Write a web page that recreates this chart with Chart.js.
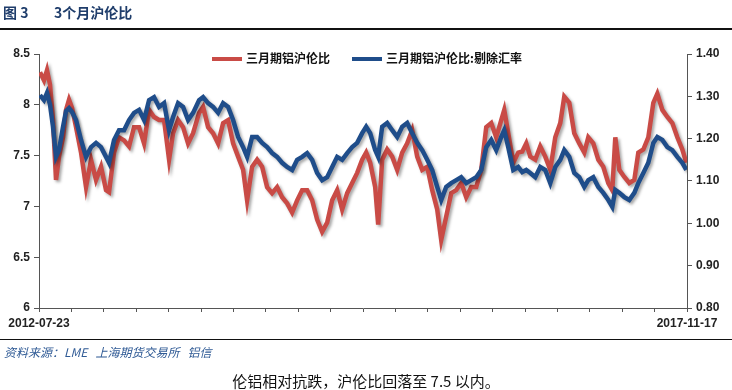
<!DOCTYPE html>
<html>
<head>
<meta charset="utf-8">
<script src="https://cdn.jsdelivr.net/npm/chart.js@4.4.0/dist/chart.umd.min.js"></script>
<style>
  body { margin: 0; background: #fff; }
  #wrap { position: relative; width: 732px; height: 390px; overflow: hidden; font-family: "Liberation Sans", Arial, sans-serif; }
  #chart { position: absolute; left: 0; top: 0; }
  .title { position: absolute; top: 2px; font: bold 14px "Noto Sans CJK SC", sans-serif; color: #1f3d6b; }
  .rule { position: absolute; left: 0; width: 732px; background: #111; }
  .legend { position: absolute; top: 49px; font: bold 12px "Noto Sans CJK SC", sans-serif; color: #111; white-space: nowrap; }
  .legend span.sw { display: inline-block; width: 30px; height: 4px; vertical-align: middle; margin-right: 4px; position: relative; top: -1px; }
  .source { position: absolute; left: 4px; top: 343px; font: italic 12px "Noto Sans CJK SC", sans-serif; color: #2f5a95; white-space: pre; }
  .caption { position: absolute; left: 0; width: 732px; top: 370px; text-align: center; font: 15px "Noto Sans CJK SC", sans-serif; color: #111; }
</style>
</head>
<body>
<div id="wrap">
  <canvas id="chart" width="732" height="390"></canvas>
  <div class="title" style="left:3px">图 3</div>
  <div class="title" style="left:54px">3个月沪伦比</div>
  <div class="rule" style="top:28px;height:2px"></div>
  <div class="legend" style="left:212px"><span class="sw" style="background:#c94b46"></span>三月期铝沪伦比</div>
  <div class="legend" style="left:352px"><span class="sw" style="background:#1f4d8a"></span>三月期铝沪伦比:剔除汇率</div>
  <div class="rule" style="top:339px;height:1px"></div>
  <div class="source">资料来源：LME   上海期货交易所   铝信</div>
  <div class="caption">伦铝相对抗跌，沪伦比回落至 7.5 以内。</div>
</div>
<script>
// days since 2012-07-23
var days = [3, 15, 24, 33, 42, 51, 60, 72, 81, 90, 99, 111, 126, 141, 156, 171, 186, 201, 210, 225,
  240, 255, 270, 285, 300, 315, 330, 345, 360, 375, 390, 402, 417, 432, 447, 462, 480, 492, 507, 522,
  537, 552, 567, 582, 597, 612, 624, 639, 654, 669, 684, 699, 714, 729, 744, 759, 774, 789, 804, 819,
  834, 849, 864, 879, 894, 909, 924, 939, 954, 969, 981, 993, 1008, 1017, 1029, 1044, 1059, 1074, 1089, 1104,
  1119, 1134, 1149, 1164, 1179, 1194, 1206, 1221, 1236, 1251, 1266, 1281, 1296, 1311, 1326, 1341, 1356, 1371, 1386, 1395,
  1407, 1422, 1437, 1449, 1461, 1473, 1488, 1503, 1518, 1533, 1548, 1563, 1575, 1590, 1605, 1620, 1635, 1647, 1662, 1677,
  1692, 1707, 1719, 1728, 1740, 1755, 1770, 1785, 1797, 1812, 1827, 1842, 1854, 1869, 1884, 1899, 1914, 1929, 1941];

// 三月期铝沪伦比 (left axis)
var ratio = [8.32, 8.24, 8.34, 8.20, 7.85, 7.26, 7.49, 7.68, 7.95, 8.05, 7.97, 7.78, 7.53, 7.19, 7.46, 7.26, 7.39, 7.16, 7.14, 7.53,
  7.68, 7.65, 7.59, 7.78, 7.78, 7.62, 7.95, 7.88, 7.85, 7.85, 7.46, 7.72, 7.85, 7.78, 7.62, 7.72, 7.92, 7.98, 7.78, 7.72,
  7.62, 7.82, 7.85, 7.62, 7.49, 7.36, 7.06, 7.39, 7.46, 7.39, 7.19, 7.13, 7.19, 7.09, 7.03, 6.94, 7.06, 7.16, 7.16, 7.06,
  6.87, 6.75, 6.84, 7.06, 7.16, 6.97, 7.13, 7.23, 7.33, 7.46, 7.53, 7.43, 7.19, 6.82, 7.46, 7.56, 7.49, 7.36, 7.53, 7.62,
  7.75, 7.49, 7.36, 7.39, 7.16, 6.97, 6.67, 6.90, 7.13, 7.16, 7.23, 7.09, 7.19, 7.19, 7.36, 7.78, 7.82, 7.68, 7.85, 7.95,
  7.72, 7.43, 7.53, 7.54, 7.62, 7.49, 7.46, 7.59, 7.49, 7.36, 7.68, 7.82, 8.08, 8.02, 7.72, 7.62, 7.53, 7.68, 7.62, 7.46,
  7.39, 7.23, 7.16, 7.68, 7.36, 7.29, 7.23, 7.26, 7.53, 7.56, 7.68, 8.02, 8.11, 7.95, 7.88, 7.82, 7.68, 7.56, 7.43];

// 三月期铝沪伦比:剔除汇率 (right axis)
var ratioExFx = [1.303, 1.291, 1.308, 1.280, 1.228, 1.157, 1.173, 1.228, 1.265, 1.272, 1.263, 1.244, 1.197, 1.157, 1.180, 1.190, 1.180, 1.157, 1.143, 1.197,
  1.220, 1.220, 1.244, 1.261, 1.268, 1.244, 1.291, 1.298, 1.275, 1.284, 1.220, 1.251, 1.284, 1.275, 1.244, 1.261, 1.291, 1.298, 1.284, 1.275,
  1.261, 1.284, 1.275, 1.244, 1.204, 1.180, 1.157, 1.204, 1.204, 1.190, 1.180, 1.166, 1.157, 1.143, 1.133, 1.126, 1.150, 1.157, 1.166, 1.150,
  1.119, 1.102, 1.109, 1.133, 1.157, 1.150, 1.166, 1.180, 1.190, 1.213, 1.228, 1.213, 1.173, 1.157, 1.228, 1.237, 1.220, 1.204, 1.228, 1.237,
  1.213, 1.190, 1.173, 1.150, 1.126, 1.086, 1.055, 1.086, 1.095, 1.102, 1.109, 1.095, 1.102, 1.109, 1.126, 1.180, 1.197, 1.173, 1.204, 1.220,
  1.180, 1.126, 1.133, 1.121, 1.126, 1.119, 1.109, 1.133, 1.126, 1.095, 1.133, 1.150, 1.173, 1.157, 1.119, 1.109, 1.086, 1.102, 1.109, 1.086,
  1.072, 1.055, 1.039, 1.079, 1.072, 1.062, 1.055, 1.072, 1.095, 1.119, 1.143, 1.190, 1.204, 1.197, 1.180, 1.173, 1.157, 1.143, 1.126];

var xEndLabels = ['2012-07-23', '2017-11-17'];
var xMaxDay = 1943;

function toPoints(ys) {
    return ys.map(function(v, i) { return { x: days[i], y: v }; });
}

var lineShadow = {
    id: 'lineShadow',
    beforeDatasetDraw: function(chart) {
        var ctx = chart.ctx;
        ctx.save();
        ctx.shadowColor = 'rgba(0,0,0,0.35)';
        ctx.shadowBlur = 3;
        ctx.shadowOffsetX = 2;
        ctx.shadowOffsetY = 2;
    },
    afterDatasetDraw: function(chart) {
        chart.ctx.restore();
    }
};

var tickFont = { family: '"Liberation Sans", Arial, sans-serif', size: 12, weight: 'bold' };

var ctx = document.getElementById('chart').getContext('2d');
var chart = new Chart(ctx, {
    type: 'line',
    data: {
        datasets: [{
            label: '三月期铝沪伦比',
            data: toPoints(ratio),
            borderColor: '#c94b46',
            borderWidth: 4.5,
            pointRadius: 0,
            tension: 0,
            yAxisID: 'y',
            order: 2
        }, {
            label: '三月期铝沪伦比:剔除汇率',
            data: toPoints(ratioExFx),
            borderColor: '#1f4d8a',
            borderWidth: 4.5,
            pointRadius: 0,
            tension: 0,
            yAxisID: 'y1',
            order: 1
        }]
    },
    options: {
        responsive: false,
        devicePixelRatio: 1,
        animation: false,
        layout: {
            padding: { top: 54, bottom: 52, left: 0, right: 0 }
        },
        scales: {
            x: {
                type: 'linear',
                min: 0,
                max: xMaxDay,
                afterBuildTicks: function(scale) {
                    var t = [];
                    for (var i = 0; i <= 20; i++) t.push({ value: xMaxDay * i / 20 });
                    scale.ticks = t;
                },
                afterFit: function(scale) { scale.height = 30; },
                grid: { drawOnChartArea: false, drawTicks: true, tickLength: 4, color: '#555' },
                border: { display: true, color: '#555' },
                ticks: {
                    autoSkip: false,
                    maxRotation: 0,
                    padding: 4,
                    color: '#222',
                    font: tickFont,
                    callback: function(value, index, ticks) {
                        if (index === 0) return xEndLabels[0];
                        if (index === ticks.length - 1) return xEndLabels[1];
                        return '';
                    }
                }
            },
            y: {
                position: 'left',
                min: 6,
                max: 8.5,
                afterFit: function(scale) { scale.width = 39; },
                grid: { drawOnChartArea: false, drawTicks: true, tickLength: 5, color: '#555' },
                border: { display: true, color: '#555' },
                ticks: {
                    stepSize: 0.5,
                    padding: 4,
                    color: '#222',
                    font: tickFont,
                    callback: function(v) { return String(Math.round(v * 10) / 10); }
                }
            },
            y1: {
                position: 'right',
                min: 0.8,
                max: 1.4,
                afterFit: function(scale) { scale.width = 45; },
                grid: { drawOnChartArea: false, drawTicks: true, tickLength: 5, color: '#555' },
                border: { display: true, color: '#555' },
                ticks: {
                    stepSize: 0.1,
                    padding: 4,
                    color: '#222',
                    font: tickFont,
                    callback: function(v) { return v.toFixed(2); }
                }
            }
        },
        plugins: {
            legend: { display: false },
            tooltip: { enabled: false }
        }
    },
    plugins: [lineShadow]
});
</script>
</body>
</html>
